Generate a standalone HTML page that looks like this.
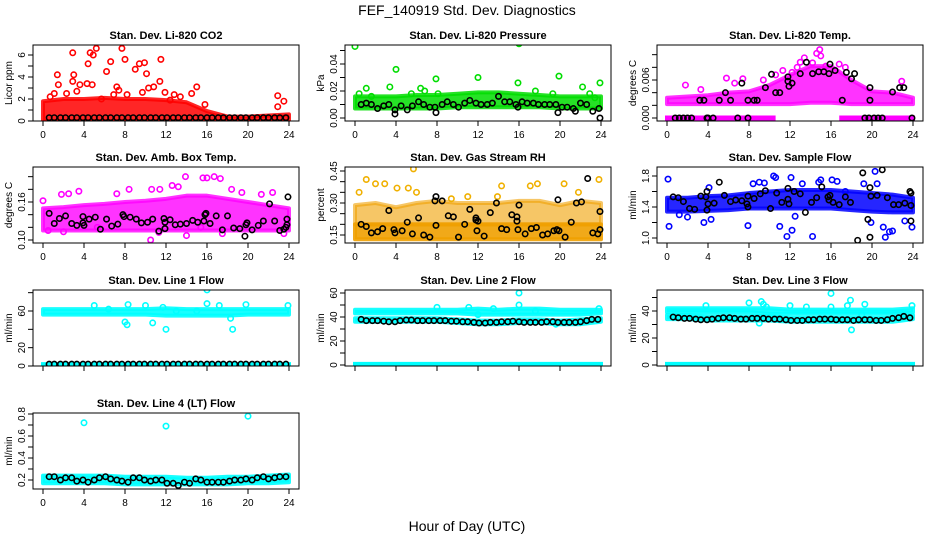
<!DOCTYPE html>
<html><head><meta charset="utf-8">
<style>
html,body{margin:0;padding:0;background:#fff;}
svg{display:block;font-family:"Liberation Sans",sans-serif;}
</style></head>
<body>
<svg id="chart" width="936" height="540" viewBox="0 0 936 540" xmlns="http://www.w3.org/2000/svg">
<text x="467" y="15" text-anchor="middle" font-size="14">FEF_140919  Std. Dev. Diagnostics</text>
<text x="467" y="531" text-anchor="middle" font-size="14">Hour of Day (UTC)</text>
</svg>
<script>
const HB=[0.6,1.1,1.7,2.2,2.8,3.3,3.9,4.4,5.0,5.5,6.1,6.6,7.2,7.7,8.3,8.8,9.4,9.9,10.5,11.0,11.6,12.1,12.7,13.2,13.8,14.3,14.9,15.4,16.0,16.5,17.1,17.6,18.2,18.7,19.3,19.8,20.4,20.9,21.5,22.0,22.6,23.1,23.7];
const BH=[0,2,4,6,8,10,12,14,16,18,20,22,24];
const xTicks=[0,4,8,12,16,20,24];
const p1Lo=[0,0,0,0,0,0,0,0,0,0,0,0,0];
const p1Hi=[1.8,2.0,2.0,2.1,2.0,2.0,1.9,1.7,0.9,0.4,0.4,0.5,0.6];
const p1Ox=[0.7,1.1,1.4,1.5,2.9,3.0,2.9,3.6,4.4,4.6,4.9,5.2,4.8,4.3,6.2,6.6,7.7,8.0,7.2,9.0,9.4,9.9,10.1,11.5,11.4,10.8,10.3,12.8,15,14.5,15.8,22.9,23.5,22.9,6.9,2.3,3.3,9.7,12.4,8.2,7.4,11.9,13.4,5.7];
const p1Oy=[2.2,2.5,4.2,3.3,6.2,4.2,3.6,3.3,5.2,6.2,6.0,6.6,3.3,3.4,4.5,5.4,6.6,5.6,3.1,4.7,5.2,5.3,4.3,5.6,3.6,3.1,3.0,2.4,3.1,2.5,1.5,2.3,1.8,1.3,2.4,2.5,2.7,2.6,1.9,2.4,2.8,2.6,2.2,2.0];
const p1Bx=HB;
const p1By=[0.3,0.3,0.3,0.3,0.3,0.3,0.3,0.3,0.3,0.3,0.3,0.3,0.3,0.3,0.3,0.3,0.3,0.3,0.3,0.3,0.3,0.3,0.3,0.3,0.3,0.3,0.3,0.3,0.3,0.3,0.3,0.3,0.3,0.3,0.3,0.3,0.3,0.3,0.3,0.3,0.3,0.3,0.3];
const p2Lo=[0.007,0.007,0.007,0.007,0.007,0.008,0.008,0.008,0.008,0.008,0.007,0.007,0.007];
const p2Hi=[0.016,0.016,0.016,0.017,0.017,0.018,0.019,0.019,0.018,0.017,0.016,0.016,0.016];
const p2Ox=[0,8.1,16,4,12,19.9,23.9,15.9,0.4,1.1,3.4,6.4,6.8,7.9,8.1,22.2,22.9,23.4,19.3,17.6,1.6,5.5];
const p2Oy=[0.053,0.057,0.055,0.036,0.030,0.031,0.026,0.026,0.018,0.022,0.023,0.022,0.020,0.029,0.018,0.023,0.018,0.015,0.018,0.020,0.016,0.018];
const p2Bx=[0.6,1.1,1.6,2.2,2.8,3.3,3.9,3.9,4.5,5.1,5.6,6.2,6.7,7.3,7.8,7.9,8.5,9.0,9.6,10.1,10.7,11.2,11.8,12.3,12.9,13.4,14.0,14.6,15.1,15.7,15.9,16.3,16.8,17.4,17.9,18.5,19.0,19.6,19.8,20.2,20.7,21.3,21.5,22.0,22.6,23.2,23.8,23.9];
const p2By=[0.010,0.011,0.010,0.007,0.009,0.010,0.006,0.003,0.009,0.006,0.009,0.012,0.010,0.008,0.008,0.004,0.010,0.012,0.010,0.008,0.011,0.013,0.011,0.010,0.010,0.011,0.016,0.012,0.012,0.010,0.008,0.012,0.011,0.011,0.010,0.010,0.010,0.010,0.004,0.008,0.008,0.007,0.005,0.011,0.010,0.005,0.007,0.000];
const p3Lo=[0.0022,0.0022,0.0022,0.0022,0.0022,0.0022,0.0022,0.0024,0.0024,0.0022,0.0022,0.0022,0.0022];
const p3Hi=[0.0032,0.0034,0.0036,0.0040,0.0042,0.0052,0.0068,0.0082,0.0082,0.0060,0.0042,0.0040,0.0032];
const p3Zx=[0,10.4];
const p3Zx2=[17,24];
const p3Ox=[1.8,5.8,7.4,9.4,10.6,11.3,12.2,13.0,13.4,14.2,14.6,14.9,15.0,15.5,16.8,17.4,22.9,6.6,3.3,12.7];
const p3Oy=[0.0052,0.0063,0.0062,0.0060,0.0068,0.0075,0.0072,0.0088,0.0095,0.0087,0.0102,0.0108,0.0098,0.0082,0.0085,0.0080,0.0058,0.0055,0.0045,0.0080];
const p3Bx=[0.8,1.2,1.6,2.0,2.4,3.2,3.6,3.9,4.0,4.5,5.1,5.7,6.2,6.9,7.3,7.9,7.9,8.5,8.8,9.6,10.2,10.6,11.0,11.8,11.8,11.9,12.2,13.0,13.6,14.2,14.8,15.3,15.8,15.9,16.4,17.1,17.5,18.0,18.3,19.3,19.7,19.8,19.8,20.2,20.6,21.0,22.0,22.7,23.1,23.9];
const p3By=[0,0,0,0,0,0.0028,0.0028,0,0,0,0.0028,0.004,0.0028,0,0.0055,0.0028,0,0.0028,0.0028,0.0048,0.0069,0.004,0.004,0.0065,0.0058,0.005,0.0055,0.007,0.0088,0.007,0.0073,0.0073,0.007,0.0085,0.0075,0.0028,0.0072,0.0062,0.007,0,0,0.0028,0.0048,0,0,0,0.0041,0.0048,0.0048,0];
const p4Lo=[0.115,0.115,0.115,0.115,0.115,0.115,0.115,0.115,0.115,0.115,0.115,0.115,0.115];
const p4Hi=[0.150,0.152,0.155,0.157,0.160,0.162,0.165,0.170,0.170,0.165,0.160,0.155,0.150];
const p4Ox=[0,1.8,2.5,3.5,7.2,8.4,10.6,11.4,12.6,13.9,15.6,16,16.7,17.3,13.2,18.4,19.4,21.3,22.4,10.5,14,11.3,2,5.3,15.4,17.5,23.5,0.5];
const p4Oy=[0.162,0.172,0.173,0.177,0.173,0.18,0.18,0.18,0.186,0.2,0.198,0.198,0.2,0.197,0.184,0.18,0.175,0.172,0.175,0.1,0.107,0.112,0.113,0.12,0.12,0.11,0.11,0.115];
const p4Bx=[0.6,1.1,1.6,2.2,2.8,3.3,3.9,3.9,4.0,4.5,5.1,5.6,6.2,6.7,7.3,7.8,7.9,8.5,9.1,9.6,10.2,10.7,11.3,11.8,11.9,11.9,12.4,12.9,13.4,14.0,14.6,15.1,15.7,15.8,15.9,16.3,16.9,17.5,18.0,18.6,19.2,19.7,19.8,19.9,20.4,21.0,21.5,22.1,22.6,23.1,23.5,23.7,23.8,23.8,23.9];
const p4By=[0.142,0.126,0.134,0.138,0.126,0.123,0.137,0.127,0.123,0.133,0.136,0.117,0.133,0.122,0.125,0.14,0.137,0.136,0.133,0.127,0.128,0.133,0.114,0.134,0.118,0.128,0.132,0.124,0.125,0.126,0.131,0.128,0.13,0.14,0.142,0.126,0.138,0.116,0.138,0.119,0.118,0.106,0.124,0.127,0.116,0.123,0.13,0.157,0.13,0.115,0.117,0.12,0.133,0.124,0.168];
const p5Lo=[0.13,0.13,0.13,0.13,0.13,0.13,0.13,0.13,0.13,0.13,0.13,0.13,0.13];
const p5Hi=[0.20,0.20,0.20,0.20,0.20,0.20,0.20,0.20,0.20,0.20,0.20,0.20,0.20];
const p5Hi2=[0.29,0.30,0.28,0.30,0.31,0.30,0.30,0.30,0.31,0.31,0.29,0.31,0.30];
const p5Ox=[0.4,1.1,2.0,2.9,4.1,5.2,5.7,6.0,13.9,14.3,17.1,17.8,20.4,21.8,23.8,11.0,9.4];
const p5Oy=[0.35,0.41,0.39,0.39,0.37,0.37,0.46,0.35,0.33,0.38,0.38,0.39,0.39,0.35,0.41,0.33,0.32];
const p5Bx=[0.6,1.1,1.6,2.2,2.7,3.3,3.8,3.9,4.6,5.1,5.6,6.2,6.7,7.3,7.8,7.9,7.9,8.5,9.1,9.6,10.1,10.7,11.2,11.8,11.8,11.9,12.0,12.6,13.2,13.8,14.3,14.8,15.3,15.8,15.8,15.9,16.0,16.6,17.2,17.7,18.3,18.8,19.4,19.7,19.8,19.9,20.5,21.1,21.6,22.1,22.7,23.2,23.7,23.9,23.9];
const p5By=[0.2,0.19,0.16,0.165,0.18,0.265,0.175,0.16,0.17,0.21,0.155,0.23,0.15,0.14,0.31,0.195,0.33,0.31,0.24,0.235,0.14,0.2,0.27,0.23,0.22,0.17,0.215,0.145,0.255,0.3,0.18,0.175,0.245,0.215,0.235,0.175,0.29,0.155,0.18,0.185,0.15,0.155,0.17,0.175,0.315,0.17,0.14,0.21,0.3,0.305,0.415,0.16,0.155,0.175,0.26];
const p6Lo=[1.34,1.34,1.35,1.36,1.38,1.38,1.38,1.38,1.38,1.36,1.34,1.33,1.33];
const p6Hi=[1.52,1.52,1.54,1.55,1.58,1.60,1.62,1.62,1.62,1.60,1.58,1.56,1.52];
const p6Ox=[0.1,0.2,1.2,2,3.6,4.1,4.3,7.9,8.4,9.0,9.5,10.4,10.6,11.0,11.7,12.1,12.2,12.5,14.2,14.8,15.0,16.1,16.6,19.2,19.9,20.3,20.5,21.1,21.3,21.7,22.0,23.2,23.9,13.2,17.4];
const p6Oy=[1.76,1.15,1.3,1.27,1.2,1.65,1.24,1.16,1.7,1.72,1.71,1.8,1.78,1.15,1.02,1.78,1.1,1.28,1.02,1.72,1.75,1.75,1.73,1.7,1.2,1.86,1.7,1.14,1.01,1.08,1.09,1.22,1.14,1.7,1.6];
const p6Bx=[0.6,1.1,1.6,2.2,2.7,3.3,3.8,3.9,4.0,3.9,4.6,5.1,5.6,6.2,6.7,7.3,7.8,7.9,7.9,8.5,9.1,9.6,10.1,10.7,11.2,11.8,11.8,11.9,12.4,13.0,13.5,14.1,14.6,15.1,15.7,15.8,15.9,16.2,16.8,17.4,17.9,18.6,19.1,19.6,19.8,19.8,19.9,20.5,21.0,21.5,22.1,22.6,23.2,23.7,23.8,23.8,23.8];
const p6By=[1.53,1.52,1.47,1.38,1.37,1.54,1.53,1.6,1.44,1.36,1.45,1.72,1.55,1.47,1.49,1.48,1.44,1.4,1.54,1.51,1.57,1.61,1.38,1.58,1.46,1.64,1.5,1.44,1.6,1.57,1.33,1.46,1.52,1.66,1.53,1.49,1.55,1.46,1.43,1.53,1.46,0.97,1.84,1.24,1.01,1.65,1.54,1.55,1.88,1.52,1.43,1.43,1.45,1.6,1.58,1.42,1.22];
const p7Lo=[56,56,56,56,56,56,55,55,55,55,56,56,56];
const p7Hi=[62,62,62,62,62,62,63,62,62,62,62,62,62];
const p7Zero=[0,24];
const p7Ox=[8.3,8.0,8.2,10.7,11.7,12.0,16.0,16.0,17.2,18.3,18.5,19.8,23.9,5.0,10.0,6.4,13,15];
const p7Oy=[67,48,45,47,64,40,83,68,66,52,40,67,66,66,66,62,60,60];
const p7By=[2,2,2,2,2,2,2,2,2,2,2,2,2,2,2,2,2,2,2,2,2,2,2,2,2,2,2,2,2,2,2,2,2,2,2,2,2,2,2,2,2,2,2];
const p8Lo=[43,43,43,43,43,43,42,42,42,42,42,42,43];
const p8Hi=[46,46,46,46,46,46,47,46,47,47,46,46,46];
const p8Lo2=[36,36,36,36,36,35,34,34,35,35,34,34,36];
const p8Hi2=[39,39,39,39,39,38,37,37,38,38,37,38,39];
const p8Ox=[16,16,13.5,17.6,11.1,12.0,8.0,19.6,23.8];
const p8Oy=[60,50,47,45,48,42,48,34,47];
const p8By=[38,37,37,37,36.5,36,36,37,37.5,37.5,37,37,37,37,37,37,36.5,36.5,36,36,35.5,35,35,35.5,35.5,36,36,36.5,36,35.5,35.5,35.5,35.5,36,36,35.5,35.5,35.5,35.5,36,37,38,38];
const p9Lo=[39,39,39,39,39,38,38,38,38,38,38,38,39];
const p9Hi=[42,42,42,42,42,42,41,41,41,41,41,41,42];
const p9Lo2=[34,34,33,33,33,33,32,32,32,32,32,32,34];
const p9Hi2=[37,37,36,36,36,36,35,35,35,35,35,35,37];
const p9Ox=[16,8,9.2,9.4,9.7,9.0,3.8,12,17.9,17.6,18.0,19.3,16.0,13.6,23.9,19];
const p9Oy=[53,46,47,45,43,31,44,44,48,44,26,45,43,43,44,37];
const p9By=[35.5,35,34.5,34.5,34,33.5,33.5,34,34.5,35,35,34.5,34,34,34.5,34.5,34.5,34,34,34,33.5,33,33,33,33.5,33.5,34,34,34,33.5,33.5,33.5,33,33.5,33.5,33.5,33,33,33.5,34.5,35,36,35];
const p10Lo=[0.17,0.17,0.17,0.17,0.16,0.16,0.16,0.16,0.16,0.16,0.17,0.17,0.18];
const p10Hi=[0.24,0.24,0.24,0.24,0.23,0.23,0.23,0.22,0.22,0.23,0.23,0.24,0.25];
const p10Ox=[4,12,20];
const p10Oy=[0.72,0.69,0.78];
const p10By=[0.23,0.23,0.2,0.22,0.22,0.19,0.2,0.18,0.2,0.22,0.23,0.21,0.2,0.19,0.18,0.22,0.22,0.2,0.19,0.2,0.2,0.17,0.17,0.15,0.18,0.17,0.21,0.2,0.18,0.18,0.18,0.18,0.19,0.2,0.2,0.21,0.2,0.22,0.23,0.21,0.22,0.23,0.23];

const svg=document.getElementById('chart');
const NS='http://www.w3.org/2000/svg';
function mk(tag,attrs,parent){const e=document.createElementNS(NS,tag);for(const k in attrs)e.setAttribute(k,attrs[k]);(parent||svg).appendChild(e);return e;}
const ROWS=[45,167,290,413];

function panel(o){
  const X0=312*o.col, top=ROWS[o.row], bot=top+76;
  const xs=h=>X0+43+h*10.25;
  const ys=v=>o.p1+(v-o.v1)*(o.p2-o.p1)/(o.v2-o.v1);
  const g=mk('g',{});
  
  
  const t=mk('text',{x:X0+166,y:top-6,'text-anchor':'middle','font-size':11,'font-weight':'bold'},g);
  t.textContent=o.title;
  
  
  const yt=mk('text',{x:0,y:0,'text-anchor':'middle','font-size':10,transform:`translate(${X0+12},${top+38}) rotate(-90)`},g);
  yt.textContent=o.ylab;
  
  
  const clip='c'+o.name;
  const cp=mk('clipPath',{id:clip},g);mk('rect',{x:X0+33,y:top,width:266,height:76},cp);
  const pg=mk('g',{'clip-path':`url(#${clip})`},g);
  function band(lo,hi,col,op){
    let d='';BH.forEach((h,i)=>{d+=(i?'L':'M')+xs(h)+','+ys(hi[i]);});
    for(let i=BH.length-1;i>=0;i--)d+='L'+xs(BH[i])+','+ys(lo[i]);
    const p=mk('path',{d:d+'Z',fill:col,'fill-opacity':op,stroke:col,'stroke-width':4,'stroke-opacity':op,'stroke-linejoin':'round'},pg);
    
    
  }
  function pts(xa,ya,col,nm){
    xa.forEach((h,i)=>{const c=mk('circle',{cx:xs(h),cy:ys(ya[i]),r:2.7,fill:'none',stroke:col,'stroke-width':1.6},pg);
      
      });
  }
  function hline(xr,v,col){const l=mk('line',{x1:xs(xr[0])-2,x2:xs(xr[xr.length-1])+2,y1:ys(v),y2:ys(v),stroke:col,'stroke-width':5},pg);
    
    }
  o.draw({band,pts,hline});
  const b=mk('rect',{x:X0+33,y:top,width:266,height:76,fill:'none',stroke:'#000','stroke-width':1},g);
  
  
  xTicks.forEach(h=>{mk('line',{x1:xs(h),x2:xs(h),y1:bot,y2:bot+5,stroke:'#000'},g);
    if(o.xlab){const tl=mk('text',{x:xs(h),y:bot+17,'text-anchor':'middle','font-size':10},g);tl.textContent=h;
      
      }});
  o.yt.forEach(v=>{mk('line',{x1:X0+28,x2:X0+33,y1:ys(v),y2:ys(v),stroke:'#000'},g);});
  o.yl.forEach((s,i)=>{const v=parseFloat(s);const tl=mk('text',{x:0,y:0,'text-anchor':'middle','font-size':10,transform:`translate(${X0+25},${ys(v)}) rotate(-90)`},g);tl.textContent=s;
    
    });
}
panel({name:'panel-co2',col:0,row:0,title:'Stan. Dev. Li-820 CO2',ylab:'Licor ppm',v1:0,p1:121,v2:6,p2:55,yt:[0,1,2,3,4,5,6],yl:['0','2','4','6'],xlab:true,
  draw:f=>{f.band(p1Lo,p1Hi,'#ff0000',0.85);f.pts(p1Ox,p1Oy,'#ff0000','co2-point');f.pts(p1Bx,p1By,'#000','co2-black-point');}});
panel({name:'panel-pressure',col:1,row:0,title:'Stan. Dev. Li-820 Pressure',ylab:'kPa',v1:0,p1:118,v2:0.04,p2:64,yt:[0,0.01,0.02,0.03,0.04,0.05],yl:['0.00','0.02','0.04'],xlab:true,
  draw:f=>{f.band(p2Lo,p2Hi,'#00dd00',0.85);f.pts(p2Ox,p2Oy,'#00dd00','pressure-point');f.pts(p2Bx,p2By,'#000','pressure-black-point');}});
panel({name:'panel-li820-temp',col:2,row:0,title:'Stan. Dev. Li-820 Temp.',ylab:'degrees C',v1:0,p1:118,v2:0.006,p2:80,yt:[0,0.002,0.004,0.006,0.008,0.010],yl:['0.000','0.006'],xlab:true,
  draw:f=>{f.hline(p3Zx,0,'#ff00ff');f.hline(p3Zx2,0,'#ff00ff');f.band(p3Lo,p3Hi,'#ff00ff',0.8);f.pts(p3Ox,p3Oy,'#ff00ff','temp-point');f.pts(p3Bx,p3By,'#000','temp-black-point');}});
panel({name:'panel-amb-box-temp',col:0,row:1,title:'Stan. Dev. Amb. Box Temp.',ylab:'degrees C',v1:0.10,p1:240,v2:0.16,p2:202,yt:[0.10,0.12,0.14,0.16,0.18,0.20],yl:['0.10','0.16'],xlab:true,
  draw:f=>{f.band(p4Lo,p4Hi,'#ff00ff',0.8);f.pts(p4Ox,p4Oy,'#ff00ff','amb-point');f.pts(p4Bx,p4By,'#000','amb-black-point');}});
panel({name:'panel-gas-rh',col:1,row:1,title:'Stan. Dev. Gas Stream RH',ylab:'percent',v1:0.15,p1:235,v2:0.45,p2:171,yt:[0.15,0.20,0.25,0.30,0.35,0.40,0.45],yl:['0.15','0.30','0.45'],xlab:true,
  draw:f=>{f.band(p5Hi,p5Hi2,'#f0a000',0.6);f.band(p5Lo,p5Hi,'#f0a000',0.9);f.pts(p5Ox,p5Oy,'#f0b000','rh-point');f.pts(p5Bx,p5By,'#000','rh-black-point');}});
panel({name:'panel-sample-flow',col:2,row:1,title:'Stan. Dev. Sample Flow',ylab:'ml/min',v1:1.0,p1:238,v2:1.8,p2:176,yt:[1.0,1.2,1.4,1.6,1.8],yl:['1.0','1.4','1.8'],xlab:true,
  draw:f=>{f.band(p6Lo,p6Hi,'#0000ff',0.85);f.pts(p6Ox,p6Oy,'#0000ff','flow-point');f.pts(p6Bx,p6By,'#000','flow-black-point');}});
panel({name:'panel-line1-flow',col:0,row:2,title:'Stan. Dev. Line 1 Flow',ylab:'ml/min',v1:0,p1:366,v2:60,p2:311,yt:[0,20,40,60,80],yl:['0','20','60'],xlab:false,
  draw:f=>{f.hline(p7Zero,1.5,'#00ffff');f.band(p7Lo,p7Hi,'#00ffff',0.9);f.pts(p7Ox,p7Oy,'#00ffff','line1-point');f.pts(HB,p7By,'#000','line1-black-point');}});
panel({name:'panel-line2-flow',col:1,row:2,title:'Stan. Dev. Line 2 Flow',ylab:'ml/min',v1:0,p1:365,v2:60,p2:293,yt:[0,10,20,30,40,50,60],yl:['0','20','40','60'],xlab:false,
  draw:f=>{f.hline(p7Zero,0.5,'#00ffff');f.band(p8Lo,p8Hi,'#00ffff',0.9);f.band(p8Lo2,p8Hi2,'#00ffff',0.9);f.pts(p8Ox,p8Oy,'#00ffff','line2-point');f.pts(HB,p8By,'#000','line2-black-point');}});
panel({name:'panel-line3-flow',col:2,row:2,title:'Stan. Dev. Line 3 Flow',ylab:'ml/min',v1:0,p1:365,v2:40,p2:311,yt:[0,10,20,30,40,50],yl:['0','20','40'],xlab:false,
  draw:f=>{f.hline(p7Zero,0.5,'#00ffff');f.band(p9Lo,p9Hi,'#00ffff',0.9);f.band(p9Lo2,p9Hi2,'#00ffff',0.9);f.pts(p9Ox,p9Oy,'#00ffff','line3-point');f.pts(HB,p9By,'#000','line3-black-point');}});
panel({name:'panel-line4-flow',col:0,row:3,title:'Stan. Dev. Line 4 (LT) Flow',ylab:'ml/min',v1:0.2,p1:480,v2:0.8,p2:414,yt:[0.2,0.3,0.4,0.5,0.6,0.7,0.8],yl:['0.2','0.4','0.6','0.8'],xlab:true,
  draw:f=>{f.band(p10Lo,p10Hi,'#00ffff',0.9);f.pts(p10Ox,p10Oy,'#00ffff','line4-point');f.pts(HB,p10By,'#000','line4-black-point');}});
</script>
</body></html>
